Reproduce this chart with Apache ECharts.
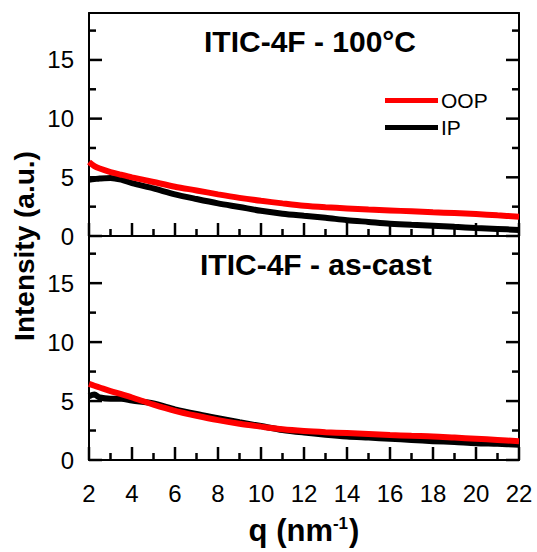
<!DOCTYPE html>
<html>
<head>
<meta charset="utf-8">
<script src="https://cdn.jsdelivr.net/npm/echarts@6/dist/echarts.min.js"></script>
<style>
  html, body { margin: 0; padding: 0; background: #fff; }
  #chart { width: 537px; height: 552px; }
</style>
</head>
<body>
<div id="chart"></div>
<script>
// Scattering vector q (nm^-1) at which the intensity profiles are sampled
const qValues = [2, 2.25, 2.5, 3, 3.5, 4, 5, 6, 7, 8, 9, 10, 11, 12, 13, 14, 15, 16, 17, 18, 19, 20, 21, 22];

// ITIC-4F annealed at 100 °C
const annealedOOP = [6.3, 5.95, 5.75, 5.45, 5.22, 5.0, 4.6, 4.2, 3.88, 3.55, 3.25, 3.0, 2.78, 2.58, 2.45, 2.35, 2.25, 2.18, 2.1, 2.02, 1.95, 1.87, 1.76, 1.65];
const annealedIP  = [4.8, 4.85, 4.9, 4.95, 4.8, 4.5, 4.05, 3.55, 3.15, 2.78, 2.47, 2.15, 1.9, 1.72, 1.55, 1.35, 1.2, 1.05, 0.95, 0.88, 0.78, 0.68, 0.6, 0.52];

// ITIC-4F as-cast
const castOOP = [6.45, 6.3, 6.15, 5.85, 5.58, 5.3, 4.7, 4.17, 3.75, 3.38, 3.08, 2.83, 2.6, 2.45, 2.35, 2.28, 2.2, 2.12, 2.05, 2.0, 1.9, 1.8, 1.7, 1.6];
const castIP  = [5.4, 5.55, 5.3, 5.2, 5.2, 5.05, 4.8, 4.3, 3.9, 3.55, 3.2, 2.88, 2.55, 2.33, 2.15, 2.0, 1.9, 1.8, 1.7, 1.6, 1.52, 1.42, 1.37, 1.3];

// Axis ranges and tick labels
const qMin = 2, qMax = 22, qStep = 2, qMinorStep = 1;
const yMin = 0, yMax = 19, yStep = 5, yMinorStep = 2.5;
const panelTitles = ['ITIC-4F - 100°C', 'ITIC-4F - as-cast'];
const seriesNames = ['OOP', 'IP'];

const FONT = 'Liberation Sans, Arial, sans-serif';
const MAJOR_LEN = 13, MINOR_LEN = 7;
const pairs = (vals) => qValues.map((q, i) => [q, vals[i]]);
const blackStroke = () => ({ color: '#000', width: 2 });

// Tick positions along each axis, [value, isMajor]
const qTicks = [];
for (let q = qMin; q <= qMax + 1e-9; q += qMinorStep) qTicks.push([q, (q - qMin) % qStep === 0 ? 1 : 0]);
const yTicks = [];
for (let v = yMin; v < yMax; v += yMinorStep) yTicks.push([v, v % yStep === 0 ? 1 : 0]);

function xAxesFor(gi, showLabels) {
  const bottom = {
    type: 'value', gridIndex: gi, min: qMin, max: qMax, interval: qStep, position: 'bottom',
    axisLine: { show: true, onZero: false, lineStyle: blackStroke() },
    axisTick: { show: false },
    splitLine: { show: false },
    axisLabel: { show: showLabels, color: '#000', fontSize: 24, fontFamily: FONT, margin: 21 }
  };
  if (showLabels) {
    bottom.name = '{b|q (nm}{s|-1}{b|)}';
    bottom.nameLocation = 'middle';
    bottom.nameGap = 55;
    bottom.nameTextStyle = {
      rich: {
        b: { fontSize: 31, fontWeight: 'bold', fontFamily: FONT, color: '#000' },
        s: { fontSize: 17, fontWeight: 'bold', fontFamily: FONT, color: '#000', verticalAlign: 'top', padding: [0, 1, 0, 0] }
      }
    };
  }
  const top = {
    type: 'value', gridIndex: gi, min: qMin, max: qMax, interval: qStep, position: 'top',
    axisLine: { show: true, onZero: false, lineStyle: blackStroke() },
    axisTick: { show: false }, axisLabel: { show: false }, splitLine: { show: false }
  };
  return [bottom, top];
}

function yAxesFor(gi) {
  const base = () => ({ type: 'value', gridIndex: gi, min: yMin, max: yMax, splitLine: { show: false } });
  return [
    Object.assign(base(), {
      position: 'left', interval: yStep,
      axisLine: { show: true, onZero: false, lineStyle: blackStroke() },
      axisTick: { show: false },
      axisLabel: {
        color: '#000', fontSize: 24, fontFamily: FONT, margin: 15,
        formatter: (v) => (v % yStep === 0 ? String(v) : '')
      }
    }),
    Object.assign(base(), {
      position: 'right', interval: yStep,
      axisLine: { show: true, onZero: false, lineStyle: blackStroke() },
      axisTick: { show: false }, axisLabel: { show: false }
    })
  ];
}

// Inward tick marks on the bottom, left and right frame edges of a panel
function tickSeries(gi) {
  const seg = (a, b) => ({ type: 'line', shape: { x1: a[0], y1: a[1], x2: b[0], y2: b[1] }, style: { stroke: '#000', lineWidth: 2.5 } });
  return [
    {
      type: 'custom', xAxisIndex: gi * 2, yAxisIndex: gi * 2, data: qTicks, silent: true, z: 4, clip: false,
      renderItem: (params, api) => {
        const p = api.coord([api.value(0), yMin]);
        const len = api.value(1) ? MAJOR_LEN : MINOR_LEN;
        return seg([p[0], p[1]], [p[0], p[1] - len]);
      }
    },
    {
      type: 'custom', xAxisIndex: gi * 2, yAxisIndex: gi * 2, data: yTicks, silent: true, z: 4, clip: false,
      renderItem: (params, api) => {
        const v = api.value(0);
        const len = api.value(1) ? MAJOR_LEN : MINOR_LEN;
        const l = api.coord([qMin, v]);
        const r = api.coord([qMax, v]);
        return { type: 'group', children: [seg([l[0], l[1]], [l[0] + len, l[1]]), seg([r[0], r[1]], [r[0] - len, r[1]])] };
      }
    }
  ];
}

function lineSeries(name, color, vals, gi) {
  return {
    name: name, type: 'line', data: pairs(vals),
    xAxisIndex: gi * 2, yAxisIndex: gi * 2,
    showSymbol: false, smooth: 0.3, z: 3,
    lineStyle: { color: color, width: 6 }, itemStyle: { color: color }
  };
}

const chart = echarts.init(document.getElementById('chart'), null, { renderer: 'svg' });
chart.setOption({
  animation: false,
  backgroundColor: '#fff',
  title: [
    { text: panelTitles[0], left: 204, top: 26, padding: 0, textStyle: { fontSize: 30, fontWeight: 'bold', fontFamily: FONT, color: '#000' } },
    { text: panelTitles[1], left: 200, top: 249, padding: 0, textStyle: { fontSize: 30, fontWeight: 'bold', fontFamily: FONT, color: '#000' } }
  ],
  legend: {
    data: seriesNames, orient: 'vertical', left: 385, top: 90,
    icon: 'rect', itemWidth: 53, itemHeight: 5, itemGap: 6, padding: 0,
    textStyle: { fontSize: 21, fontFamily: FONT, color: '#000', padding: [0, 0, 0, -2] },
    selectedMode: false
  },
  grid: [
    { left: 89, right: 18, top: 13, height: 223 },
    { left: 89, right: 18, top: 236, height: 224 }
  ],
  xAxis: xAxesFor(0, false).concat(xAxesFor(1, true)),
  yAxis: yAxesFor(0).concat(yAxesFor(1)),
  graphic: [{
    type: 'text', x: 24, y: 246, rotation: Math.PI / 2,
    style: { text: 'Intensity (a.u.)', font: 'bold 28px ' + FONT, fill: '#000', textAlign: 'center', textVerticalAlign: 'middle' }
  }],
  series: [
    lineSeries(seriesNames[1], '#000000', annealedIP, 0),
    lineSeries(seriesNames[0], '#ff0000', annealedOOP, 0),
    lineSeries(seriesNames[1], '#000000', castIP, 1),
    lineSeries(seriesNames[0], '#ff0000', castOOP, 1)
  ].concat(tickSeries(0), tickSeries(1))
});
</script>
</body>
</html>
